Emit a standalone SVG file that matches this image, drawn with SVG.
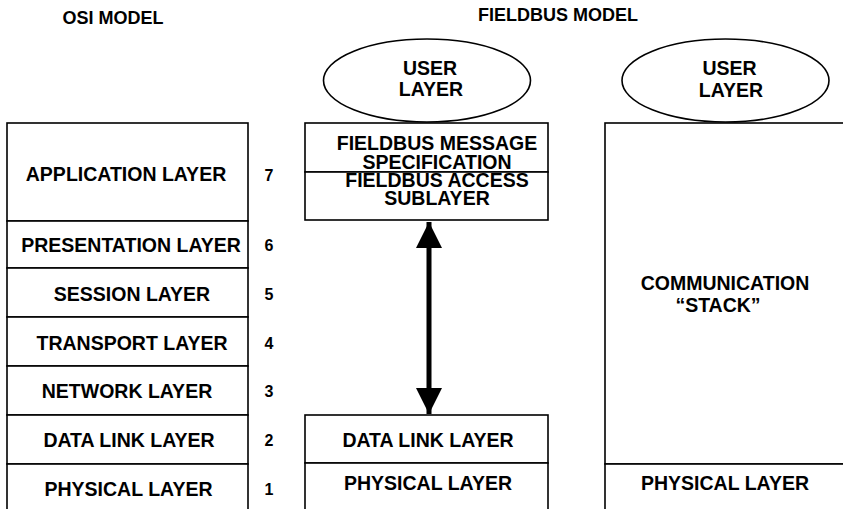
<svg xmlns="http://www.w3.org/2000/svg" width="843" height="509" viewBox="0 0 843 509">
<style>
  .box { fill: #ffffff; stroke: #000000; stroke-width: 1.6; }
  .t { font-family: "Liberation Sans", Arial, sans-serif; font-weight: bold; font-size: 19.5px; fill: #000000; text-anchor: middle; }
  .n { font-family: "Liberation Sans", Arial, sans-serif; font-weight: bold; font-size: 16px; fill: #000000; text-anchor: middle; }
  .h { font-family: "Liberation Sans", Arial, sans-serif; font-weight: bold; font-size: 18px; fill: #000000; text-anchor: middle; }
</style>
<defs>
  <marker id="head" viewBox="0 0 10 10" refX="10" refY="5" markerWidth="5.2" markerHeight="5.2" orient="auto-start-reverse" markerUnits="strokeWidth">
    <path d="M0,0 L10,5 L0,10 Z" fill="#000000"/>
  </marker>
</defs>
<rect width="843" height="509" fill="#ffffff"/>

<g id="titles">
  <text class="h" x="113" y="24">OSI MODEL</text>
  <text class="h" x="558" y="21">FIELDBUS MODEL</text>
</g>

<g id="osi-application">
  <rect class="box" x="7" y="123" width="241" height="98"/>
  <text class="t" x="126" y="181">APPLICATION LAYER</text>
  <text class="n" x="269" y="181">7</text>
</g>
<g id="osi-presentation">
  <rect class="box" x="7" y="221" width="241" height="47"/>
  <text class="t" x="131" y="252">PRESENTATION LAYER</text>
  <text class="n" x="269" y="251">6</text>
</g>
<g id="osi-session">
  <rect class="box" x="7" y="268" width="241" height="49"/>
  <text class="t" x="132" y="301">SESSION LAYER</text>
  <text class="n" x="269" y="300">5</text>
</g>
<g id="osi-transport">
  <rect class="box" x="7" y="317" width="241" height="49"/>
  <text class="t" x="132" y="350">TRANSPORT LAYER</text>
  <text class="n" x="269" y="349">4</text>
</g>
<g id="osi-network">
  <rect class="box" x="7" y="366" width="241" height="49"/>
  <text class="t" x="127" y="398">NETWORK LAYER</text>
  <text class="n" x="269" y="397">3</text>
</g>
<g id="osi-datalink">
  <rect class="box" x="7" y="415" width="241" height="49"/>
  <text class="t" x="129" y="447">DATA LINK LAYER</text>
  <text class="n" x="269" y="446">2</text>
</g>
<g id="osi-physical">
  <rect class="box" x="7" y="464" width="241" height="60"/>
  <text class="t" x="128.5" y="496">PHYSICAL LAYER</text>
  <text class="n" x="269" y="495">1</text>
</g>

<g id="fb-user">
  <ellipse class="box" cx="427" cy="80.5" rx="103.5" ry="41.5"/>
  <text class="t" x="430" y="75">USER</text>
  <text class="t" x="431" y="96">LAYER</text>
</g>
<g id="fb-fms">
  <rect class="box" x="305" y="123" width="243" height="49"/>
  <text class="t" x="437" y="150">FIELDBUS MESSAGE</text>
  <text class="t" x="437" y="168.5">SPECIFICATION</text>
</g>
<g id="fb-fas">
  <rect class="box" x="305" y="172" width="243" height="48"/>
  <text class="t" x="437" y="187">FIELDBUS ACCESS</text>
  <text class="t" x="437" y="205">SUBLAYER</text>
</g>
<g id="fb-datalink">
  <rect class="box" x="305" y="415" width="243" height="48"/>
  <text class="t" x="428" y="447">DATA LINK LAYER</text>
</g>
<g id="fb-physical">
  <rect class="box" x="305" y="463" width="243" height="60"/>
  <text class="t" x="428" y="490">PHYSICAL LAYER</text>
</g>

<g id="cs-user">
  <ellipse class="box" cx="725.5" cy="80.5" rx="103.5" ry="41.5"/>
  <text class="t" x="729.5" y="75">USER</text>
  <text class="t" x="731" y="97">LAYER</text>
</g>
<g id="cs-stack">
  <rect class="box" x="605" y="123" width="250" height="341"/>
  <text class="t" x="725" y="290">COMMUNICATION</text>
  <text class="t" x="718" y="312">“STACK”</text>
</g>
<g id="cs-physical">
  <rect class="box" x="605" y="464" width="250" height="60"/>
  <text class="t" x="725" y="490">PHYSICAL LAYER</text>
</g>

<g id="connectors">
  <line x1="429" y1="222" x2="429" y2="414" stroke="#000000" stroke-width="5" marker-start="url(#head)" marker-end="url(#head)"/>
</g>
</svg>
